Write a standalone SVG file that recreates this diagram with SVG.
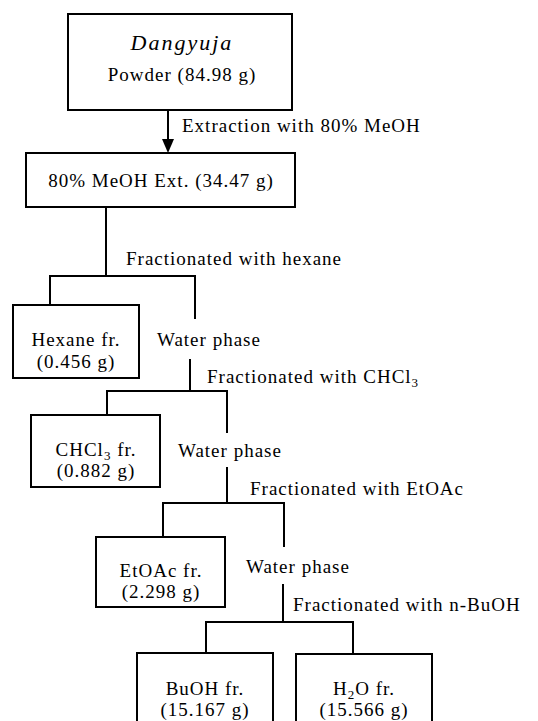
<svg xmlns="http://www.w3.org/2000/svg" width="538" height="721" viewBox="0 0 538 721">
<style>
text{font-family:"Liberation Serif","Times New Roman",serif;font-size:19px;letter-spacing:1px;fill:#000}
.c{text-anchor:middle}
.box{fill:#fff;stroke:#000;stroke-width:2}
.ln{fill:none;stroke:#000;stroke-width:2}
.it{font-style:italic;font-size:22px;letter-spacing:2px}
.sub{font-size:13px;baseline-shift:-4px}
</style>
<rect width="538" height="721" fill="#fff"/>
<g id="connectors">
<line class="ln" x1="168" y1="110" x2="168" y2="140"/>
<polygon points="162,139 174,139 168,153" fill="#000"/>
<path class="ln" d="M106 207 V276 M50 305 V276 H195 V319"/>
<path class="ln" d="M190 359 V391 M107 415 V391 H227 V433"/>
<path class="ln" d="M227 467 V503 M163 537 V503 H284 V547"/>
<path class="ln" d="M283 584 V622 M206 653 V622 H353 V654"/>
<text x="182" y="132">Extraction with 80% MeOH</text>
<text x="126" y="265">Fractionated with hexane</text>
<text x="207" y="383">Fractionated with CHCl<tspan class="sub">3</tspan></text>
<text x="250" y="495">Fractionated with EtOAc</text>
<text x="293" y="611">Fractionated with n-BuOH</text>
</g>
<g id="powder">
<rect class="box" x="68" y="14" width="224" height="96"/>
<text class="c it" x="182" y="50">Dangyuja</text>
<text class="c" x="182" y="81">Powder (84.98 g)</text>
</g>
<g id="meoh-ext">
<rect class="box" x="26" y="153" width="269" height="54"/>
<text class="c" x="161" y="187">80% MeOH Ext. (34.47 g)</text>
</g>
<g id="hexane-fr">
<rect class="box" x="13" y="305" width="126" height="73"/>
<text class="c" x="76" y="346">Hexane fr.</text>
<text class="c" x="76" y="368">(0.456 g)</text>
</g>
<g id="water1"><text x="157" y="346">Water phase</text></g>
<g id="chcl3-fr">
<rect class="box" x="31" y="415" width="129" height="72"/>
<text class="c" x="96" y="456">CHCl<tspan class="sub">3</tspan> fr.</text>
<text class="c" x="96" y="477">(0.882 g)</text>
</g>
<g id="water2"><text x="178" y="457">Water phase</text></g>
<g id="etoac-fr">
<rect class="box" x="96" y="537" width="129" height="70"/>
<text class="c" x="161" y="577">EtOAc fr.</text>
<text class="c" x="161" y="598">(2.298 g)</text>
</g>
<g id="water3"><text x="246" y="573">Water phase</text></g>
<g id="buoh-fr">
<rect class="box" x="137" y="653" width="136" height="80"/>
<text class="c" x="205" y="695">BuOH fr.</text>
<text class="c" x="205" y="716">(15.167 g)</text>
</g>
<g id="h2o-fr">
<rect class="box" x="296" y="654" width="136" height="80"/>
<text class="c" x="364" y="695">H<tspan class="sub">2</tspan>O fr.</text>
<text class="c" x="364" y="716">(15.566 g)</text>
</g>
</svg>
